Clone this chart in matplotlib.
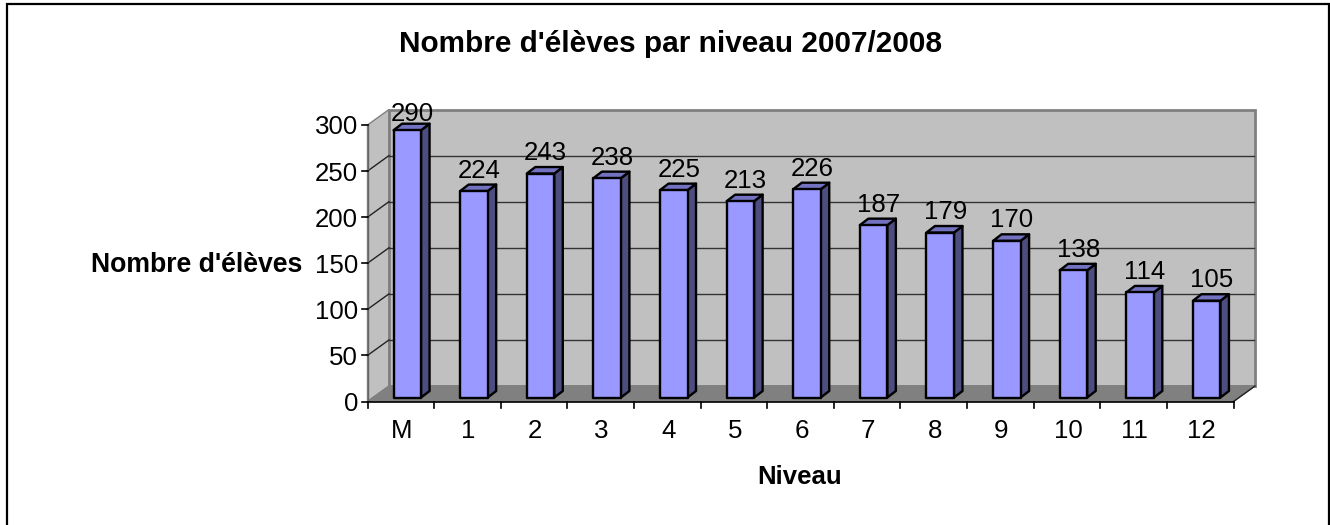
import matplotlib
matplotlib.use("Agg")
import matplotlib.pyplot as plt
from matplotlib.lines import Line2D
from matplotlib.patches import Polygon

categories = ["M", "1", "2", "3", "4", "5", "6", "7", "8", "9", "10", "11", "12"]
values = [290, 224, 243, 238, 225, 213, 226, 187, 179, 170, 138, 114, 105]
y_ticks = [0, 50, 100, 150, 200, 250, 300]
title = "Nombre d'élèves par niveau 2007/2008"
xlabel = "Niveau"
ylabel = "Nombre d'élèves"

W, H = 1330, 525
plt.rcParams["font.family"] = ["Liberation Sans", "DejaVu Sans"]
fig = plt.figure(figsize=(W / 100, H / 100), dpi=100, facecolor="white")

# Outer frame (open at the bottom, cropped by the image edge)
fig.add_artist(Line2D([7 / W, 7 / W, 1329 / W, 1329 / W], [0, 1 - 4 / H, 1 - 4 / H, 0],
                      transform=fig.transFigure, color="black", lw=1.6,
                      solid_joinstyle="miter"))

# Front plane of the pseudo-3D box
L, R, T, B = 367.5, 1233.5, 125.0, 401.5
ax = fig.add_axes([L / W, 1 - B / H, (R - L) / W, (B - T) / H])
ax.set_xlim(0, 13)
ax.set_ylim(0, 300)
ax.axis("off")

px = 13 / (R - L)          # x data units per pixel
py = 300 / (B - T)         # y data units per pixel
DX, DY = 21.5 * px, 15.5 * py   # box depth
WALL, FLOOR, EDGE = "#C0C0C0", "#808080", "#808080"


def poly(pts, **kw):
    p = Polygon(pts, closed=True, clip_on=False, **kw)
    ax.add_patch(p)


# Walls
poly([(0, 0), (DX, DY), (DX, 300 + DY), (0, 300)], fc=WALL, ec=EDGE, lw=1.0, zorder=1)
poly([(DX, DY), (13 + DX, DY), (13 + DX, 300 + DY), (DX, 300 + DY)], fc=WALL, ec=EDGE, lw=2, zorder=1)
poly([(0, 0), (13, 0), (13 + DX, DY), (DX, DY)], fc=FLOOR, ec=FLOOR, lw=1, zorder=1.1)

# Gridlines
for v in y_ticks[1:-1]:
    ax.plot([0, DX], [v, v + DY], color="#222222", lw=1.0, zorder=1.5, clip_on=False)
    ax.plot([DX, 13 + DX - 1.5 * px], [v + DY, v + DY], color="#333333", lw=1.0, zorder=1.5, clip_on=False)
ax.plot([13, 13 + DX], [0, DY], color="#222222", lw=1.0, zorder=1.5, clip_on=False)

# Axis lines and ticks
ax.plot([0, 13], [0, 0], color="black", lw=1.2, zorder=5, clip_on=False)
ax.plot([0, 0], [0, 300], color="#666666", lw=1.0, zorder=2, clip_on=False)
for v in y_ticks:
    ax.plot([-6 * px, 0], [v, v], color="black", lw=1.2, zorder=5, clip_on=False)
    ax.text(-9.5 * px, v, str(v), ha="right", va="center_baseline", fontsize=18.6, zorder=6)
for i in range(14):
    ax.plot([i, i], [0, -6 * py], color="black", lw=1.2, zorder=5, clip_on=False)
for i, c in enumerate(categories):
    ax.text(i + 0.5 + 1 * px, -27 * py, c, ha="center", va="center_baseline", fontsize=18.6, zorder=6)

# Bars
bw = 27.5 * px
ox, oy = 6.5 * px, 4 * py   # bar offset from the front plane
bdx, bdy = 8.5 * px, 6.5 * py  # bar depth
for i, v in enumerate(values):
    x0 = i + 0.5 + ox - bw / 2
    x1 = x0 + bw
    y0, y1 = oy, oy + v
    style = dict(ec="black", lw=1.7, joinstyle="round", zorder=3)
    poly([(x1, y0), (x1 + bdx, y0 + bdy), (x1 + bdx, y1 + bdy), (x1, y1)], fc="#4D4D80", **style)
    poly([(x0, y1), (x1, y1), (x1 + bdx, y1 + bdy), (x0 + bdx, y1 + bdy)], fc="#7272C0", **style)
    poly([(x0, y0), (x1, y0), (x1, y1), (x0, y1)], fc="#9999FF", **style)
    ax.text(i + 0.5 + ox + 5 * px, min(y1 + bdy + 7 * py, 300 + 4 * py), str(v),
            ha="center", va="baseline", fontsize=18.6, zorder=6, clip_on=False)

# Titles
fig.text(670.5 / W, 1 - 41 / H, title, ha="center", va="center_baseline", fontsize=21.4, fontweight="bold")
fig.text(799.5 / W, 1 - 475 / H, xlabel, ha="center", va="center_baseline", fontsize=18.5, fontweight="bold")
fig.text(196.5 / W, 1 - 262.5 / H, ylabel, ha="center", va="center_baseline", fontsize=19.2, fontweight="bold")

fig.savefig("out.png", dpi=100)
